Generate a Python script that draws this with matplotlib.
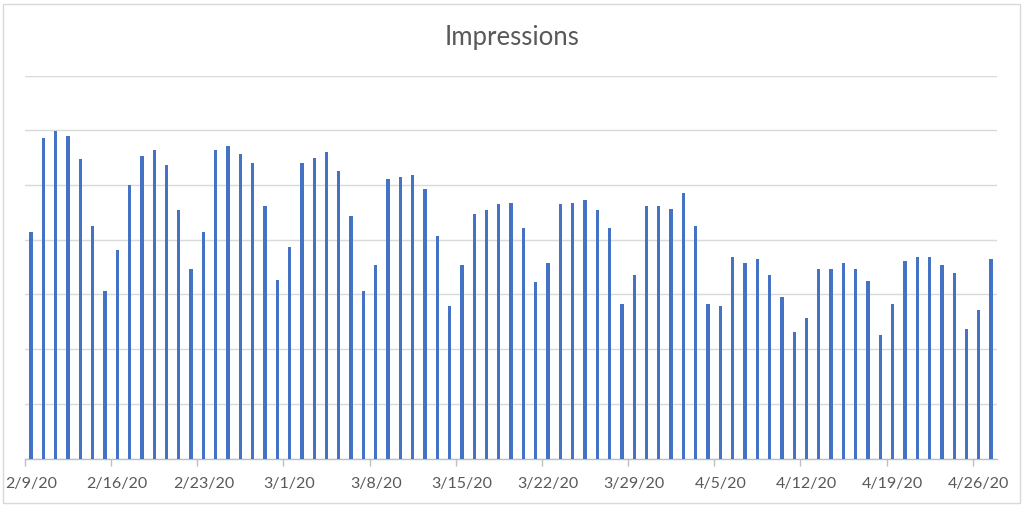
import numpy as np
import matplotlib
matplotlib.use('Agg')
import matplotlib.pyplot as plt
from matplotlib.patches import Rectangle

# --- data: daily impressions (units of one gridline step) ---
dates = ["2/9/20", "2/10/20", "2/11/20", "2/12/20", "2/13/20", "2/14/20", "2/15/20",
         "2/16/20", "2/17/20", "2/18/20", "2/19/20", "2/20/20", "2/21/20", "2/22/20",
         "2/23/20", "2/24/20", "2/25/20", "2/26/20", "2/27/20", "2/28/20", "2/29/20",
         "3/1/20", "3/2/20", "3/3/20", "3/4/20", "3/5/20", "3/6/20", "3/7/20",
         "3/8/20", "3/9/20", "3/10/20", "3/11/20", "3/12/20", "3/13/20", "3/14/20",
         "3/15/20", "3/16/20", "3/17/20", "3/18/20", "3/19/20", "3/20/20", "3/21/20",
         "3/22/20", "3/23/20", "3/24/20", "3/25/20", "3/26/20", "3/27/20", "3/28/20",
         "3/29/20", "3/30/20", "3/31/20", "4/1/20", "4/2/20", "4/3/20", "4/4/20",
         "4/5/20", "4/6/20", "4/7/20", "4/8/20", "4/9/20", "4/10/20", "4/11/20",
         "4/12/20", "4/13/20", "4/14/20", "4/15/20", "4/16/20", "4/17/20", "4/18/20",
         "4/19/20", "4/20/20", "4/21/20", "4/22/20", "4/23/20", "4/24/20", "4/25/20",
         "4/26/20", "4/27/20"]
impressions = [4.15, 5.86, 5.98, 5.90, 5.47, 4.26, 3.07,
               3.82, 5.01, 5.54, 5.65, 5.36, 4.54, 3.47,
               4.15, 5.65, 5.72, 5.57, 5.40, 4.61, 3.26,
               3.86, 5.40, 5.50, 5.61, 5.26, 4.43, 3.07,
               3.54, 5.11, 5.15, 5.18, 4.93, 4.07, 2.79,
               3.54, 4.47, 4.54, 4.65, 4.68, 4.21, 3.22,
               3.57, 4.65, 4.68, 4.72, 4.54, 4.21, 2.82,
               3.36, 4.62, 4.62, 4.57, 4.86, 4.26, 2.82,
               2.79, 3.68, 3.57, 3.65, 3.36, 2.96, 2.32,
               2.57, 3.47, 3.47, 3.57, 3.47, 3.25, 2.25,
               2.82, 3.61, 3.68, 3.68, 3.54, 3.40, 2.36,
               2.72, 3.65]

x = np.arange(len(dates))
week_idx = x[::7]
week_labels = [dates[i] for i in week_idx]

plt.rcParams['font.family'] = ['Lato', 'DejaVu Sans']

fig = plt.figure(figsize=(10.24, 5.10), dpi=100)
ax = fig.add_axes([0.0244, 0.099, 0.9495, 0.7506])

ax.bar(x, impressions, width=0.27, color='#4472C4', zorder=3)

ax.set_xlim(-0.5, len(dates) - 0.5)
ax.set_ylim(0, 7)
ax.set_yticks(np.arange(0, 8, 1))
ax.yaxis.grid(True, color='#D9D9D9', linewidth=1.0, zorder=0)
ax.tick_params(axis='y', left=False, labelleft=False)

# ticks on week boundaries, labels under the week-start bar
ax.set_xticks(week_idx - 0.5)
ax.set_xticklabels([])
ax.tick_params(axis='x', which='major', length=5, color='#BFBFBF', width=1)
ax.set_xticks(week_idx, minor=True)
ax.set_xticklabels(week_labels, minor=True)
ax.tick_params(axis='x', which='minor', length=0, pad=12.5, labelsize=11.5,
               labelcolor='#595959')

for s in ['top', 'right', 'left']:
    ax.spines[s].set_visible(False)
ax.spines['bottom'].set_color('#BFBFBF')
ax.spines['bottom'].set_linewidth(1)

fig.text(0.5, 0.926, "Impressions", ha='center', va='center', fontsize=18.5,
         color='#595959')

fig.patches.append(Rectangle((0.003, 0.012), 0.993, 0.978, transform=fig.transFigure,
                             fill=False, edgecolor='#D9D9D9', linewidth=1))

plt.savefig('out.png', dpi=100)
